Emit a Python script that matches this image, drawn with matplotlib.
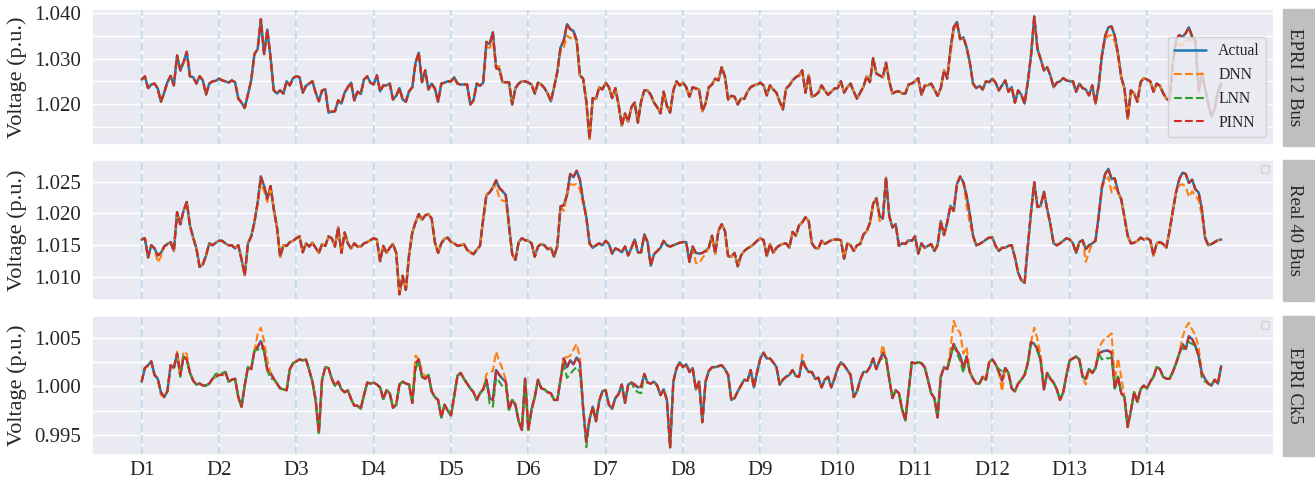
import numpy as np
import matplotlib
matplotlib.use('Agg')
from matplotlib import pyplot as plt
from matplotlib import ticker as tk
from matplotlib.patches import Rectangle
import seaborn as sns

# hourly bus voltage over two weeks (p.u.)
days = ['D%d' % d for d in range(1, 15)]
models = ['Actual', 'DNN', 'LNN', 'PINN']
cases = ['EPRI 12 Bus', 'Real 40 Bus', 'EPRI Ck5']

epri12_actual = [
    1.0254, 1.0261, 1.0235, 1.0243, 1.0245, 1.0234, 1.0205, 1.0225, 1.0248, 1.0262, 1.0241, 1.0307,
    1.0274, 1.0292, 1.0315, 1.0261, 1.0259, 1.0245, 1.0261, 1.0252, 1.0221, 1.0245, 1.0250, 1.0251,
    1.0256, 1.0252, 1.0250, 1.0247, 1.0252, 1.0248, 1.0212, 1.0203, 1.0191, 1.0222, 1.0252, 1.0310,
    1.0321, 1.0387, 1.0310, 1.0364, 1.0303, 1.0230, 1.0223, 1.0230, 1.0223, 1.0250, 1.0241, 1.0257,
    1.0261, 1.0259, 1.0225, 1.0240, 1.0245, 1.0250, 1.0225, 1.0206, 1.0230, 1.0232, 1.0181, 1.0183,
    1.0184, 1.0208, 1.0201, 1.0225, 1.0237, 1.0247, 1.0208, 1.0227, 1.0222, 1.0254, 1.0261, 1.0247,
    1.0243, 1.0263, 1.0228, 1.0241, 1.0241, 1.0245, 1.0210, 1.0218, 1.0235, 1.0210, 1.0205, 1.0228,
    1.0237, 1.0291, 1.0313, 1.0248, 1.0274, 1.0232, 1.0245, 1.0234, 1.0205, 1.0245, 1.0247, 1.0250,
    1.0250, 1.0259, 1.0245, 1.0243, 1.0243, 1.0243, 1.0199, 1.0208, 1.0245, 1.0240, 1.0247, 1.0337,
    1.0332, 1.0358, 1.0279, 1.0277, 1.0248, 1.0248, 1.0248, 1.0199, 1.0235, 1.0245, 1.0250, 1.0250,
    1.0247, 1.0243, 1.0223, 1.0247, 1.0243, 1.0235, 1.0223, 1.0206, 1.0237, 1.0271, 1.0325, 1.0340,
    1.0376, 1.0365, 1.0361, 1.0340, 1.0263, 1.0256, 1.0205, 1.0123, 1.0213, 1.0211, 1.0237, 1.0232,
    1.0247, 1.0237, 1.0213, 1.0235, 1.0199, 1.0152, 1.0179, 1.0161, 1.0193, 1.0203, 1.0159, 1.0205,
    1.0230, 1.0230, 1.0220, 1.0203, 1.0193, 1.0179, 1.0227, 1.0196, 1.0181, 1.0230, 1.0250, 1.0241,
    1.0247, 1.0237, 1.0216, 1.0237, 1.0234, 1.0232, 1.0184, 1.0201, 1.0237, 1.0243, 1.0256, 1.0252,
    1.0281, 1.0261, 1.0210, 1.0218, 1.0216, 1.0199, 1.0212, 1.0211, 1.0227, 1.0237, 1.0241, 1.0243,
    1.0247, 1.0241, 1.0219, 1.0241, 1.0232, 1.0225, 1.0205, 1.0188, 1.0234, 1.0241, 1.0252, 1.0259,
    1.0263, 1.0274, 1.0225, 1.0264, 1.0216, 1.0219, 1.0225, 1.0241, 1.0230, 1.0220, 1.0227, 1.0234,
    1.0235, 1.0250, 1.0225, 1.0237, 1.0245, 1.0227, 1.0212, 1.0225, 1.0238, 1.0261, 1.0248, 1.0301,
    1.0267, 1.0263, 1.0259, 1.0291, 1.0250, 1.0223, 1.0227, 1.0228, 1.0223, 1.0223, 1.0243, 1.0245,
    1.0250, 1.0257, 1.0220, 1.0240, 1.0241, 1.0245, 1.0232, 1.0218, 1.0235, 1.0274, 1.0256, 1.0321,
    1.0369, 1.0381, 1.0343, 1.0347, 1.0325, 1.0292, 1.0245, 1.0235, 1.0240, 1.0232, 1.0250, 1.0248,
    1.0256, 1.0247, 1.0230, 1.0241, 1.0252, 1.0227, 1.0237, 1.0203, 1.0230, 1.0220, 1.0201, 1.0248,
    1.0307, 1.0393, 1.0321, 1.0299, 1.0274, 1.0281, 1.0263, 1.0237, 1.0247, 1.0250, 1.0257, 1.0252,
    1.0250, 1.0250, 1.0227, 1.0245, 1.0235, 1.0232, 1.0219, 1.0241, 1.0201, 1.0241, 1.0307, 1.0350,
    1.0369, 1.0371, 1.0350, 1.0310, 1.0259, 1.0234, 1.0167, 1.0230, 1.0223, 1.0205, 1.0248, 1.0257,
    1.0254, 1.0250, 1.0227, 1.0245, 1.0240, 1.0224, 1.0212, 1.0207, 1.0290, 1.0341, 1.0352, 1.0348,
    1.0356, 1.0369, 1.0348, 1.0340, 1.0227, 1.0268, 1.0235, 1.0200, 1.0172, 1.0190, 1.0227, 1.0245,
]

real40_actual = [
    1.0159, 1.0161, 1.0131, 1.0150, 1.0145, 1.0134, 1.0138, 1.0148, 1.0152, 1.0155, 1.0141, 1.0202,
    1.0183, 1.0204, 1.0218, 1.0181, 1.0162, 1.0145, 1.0116, 1.0120, 1.0134, 1.0153, 1.0150, 1.0154,
    1.0157, 1.0157, 1.0153, 1.0150, 1.0150, 1.0145, 1.0150, 1.0128, 1.0103, 1.0153, 1.0164, 1.0186,
    1.0217, 1.0258, 1.0243, 1.0223, 1.0243, 1.0207, 1.0178, 1.0132, 1.0150, 1.0149, 1.0155, 1.0157,
    1.0161, 1.0164, 1.0139, 1.0153, 1.0148, 1.0154, 1.0146, 1.0138, 1.0152, 1.0149, 1.0164, 1.0161,
    1.0148, 1.0178, 1.0138, 1.0170, 1.0153, 1.0145, 1.0153, 1.0148, 1.0148, 1.0153, 1.0155, 1.0158,
    1.0161, 1.0159, 1.0125, 1.0149, 1.0138, 1.0146, 1.0152, 1.0138, 1.0073, 1.0102, 1.0080, 1.0135,
    1.0170, 1.0186, 1.0199, 1.0190, 1.0197, 1.0199, 1.0192, 1.0155, 1.0138, 1.0153, 1.0160, 1.0162,
    1.0155, 1.0153, 1.0149, 1.0150, 1.0152, 1.0143, 1.0139, 1.0136, 1.0143, 1.0149, 1.0191, 1.0229,
    1.0233, 1.0241, 1.0252, 1.0240, 1.0235, 1.0229, 1.0181, 1.0136, 1.0127, 1.0155, 1.0161, 1.0158,
    1.0157, 1.0153, 1.0132, 1.0148, 1.0152, 1.0150, 1.0144, 1.0146, 1.0132, 1.0149, 1.0211, 1.0213,
    1.0229, 1.0262, 1.0257, 1.0267, 1.0253, 1.0220, 1.0194, 1.0153, 1.0146, 1.0150, 1.0153, 1.0150,
    1.0157, 1.0152, 1.0137, 1.0145, 1.0143, 1.0139, 1.0148, 1.0134, 1.0146, 1.0159, 1.0139, 1.0139,
    1.0167, 1.0155, 1.0118, 1.0136, 1.0141, 1.0146, 1.0157, 1.0150, 1.0148, 1.0150, 1.0152, 1.0154,
    1.0155, 1.0155, 1.0124, 1.0148, 1.0138, 1.0137, 1.0138, 1.0141, 1.0146, 1.0165, 1.0137, 1.0173,
    1.0183, 1.0173, 1.0133, 1.0132, 1.0138, 1.0117, 1.0134, 1.0141, 1.0145, 1.0148, 1.0152, 1.0157,
    1.0161, 1.0158, 1.0133, 1.0152, 1.0138, 1.0146, 1.0150, 1.0152, 1.0153, 1.0146, 1.0171, 1.0165,
    1.0181, 1.0186, 1.0194, 1.0188, 1.0153, 1.0146, 1.0145, 1.0157, 1.0152, 1.0155, 1.0158, 1.0159,
    1.0159, 1.0158, 1.0129, 1.0153, 1.0150, 1.0141, 1.0150, 1.0152, 1.0167, 1.0172, 1.0185, 1.0215,
    1.0224, 1.0196, 1.0192, 1.0256, 1.0196, 1.0178, 1.0183, 1.0149, 1.0153, 1.0152, 1.0158, 1.0157,
    1.0164, 1.0137, 1.0153, 1.0146, 1.0149, 1.0152, 1.0141, 1.0150, 1.0188, 1.0166, 1.0186, 1.0212,
    1.0204, 1.0246, 1.0258, 1.0249, 1.0228, 1.0199, 1.0165, 1.0150, 1.0152, 1.0155, 1.0159, 1.0162,
    1.0162, 1.0149, 1.0141, 1.0146, 1.0146, 1.0149, 1.0150, 1.0131, 1.0107, 1.0095, 1.0091, 1.0148,
    1.0202, 1.0249, 1.0210, 1.0212, 1.0234, 1.0207, 1.0183, 1.0153, 1.0150, 1.0153, 1.0157, 1.0161,
    1.0159, 1.0153, 1.0138, 1.0155, 1.0158, 1.0144, 1.0150, 1.0153, 1.0157, 1.0196, 1.0241, 1.0262,
    1.0270, 1.0254, 1.0255, 1.0234, 1.0222, 1.0194, 1.0165, 1.0153, 1.0154, 1.0157, 1.0162, 1.0159,
    1.0161, 1.0158, 1.0134, 1.0153, 1.0155, 1.0152, 1.0146, 1.0173, 1.0204, 1.0233, 1.0254, 1.0264,
    1.0262, 1.0248, 1.0253, 1.0238, 1.0233, 1.0207, 1.0162, 1.0150, 1.0152, 1.0155, 1.0158, 1.0159,
]

ck5_actual = [
    1.0005, 1.0019, 1.0022, 1.0026, 1.0012, 1.0008, 0.9994, 0.9989, 0.9995, 1.0022, 1.0019, 1.0034,
    1.0012, 1.0031, 1.0028, 1.0014, 1.0006, 1.0002, 1.0003, 1.0001, 1.0001, 1.0003, 1.0008, 1.0010,
    1.0012, 1.0012, 1.0015, 1.0005, 1.0007, 1.0008, 0.9989, 0.9979, 1.0001, 1.0020, 1.0018, 1.0037,
    1.0041, 1.0047, 1.0037, 1.0017, 1.0014, 1.0008, 1.0003, 0.9998, 0.9997, 0.9996, 1.0018, 1.0024,
    1.0026, 1.0028, 1.0027, 1.0028, 1.0017, 1.0005, 0.9986, 0.9952, 1.0007, 1.0020, 1.0019, 1.0008,
    1.0001, 1.0005, 0.9997, 0.9994, 0.9996, 0.9987, 0.9980, 0.9980, 0.9977, 0.9991, 1.0004, 1.0003,
    1.0004, 1.0002, 0.9999, 0.9987, 0.9996, 0.9993, 0.9978, 0.9981, 1.0002, 1.0005, 1.0003, 1.0002,
    0.9983, 1.0024, 1.0028, 1.0010, 1.0008, 1.0012, 0.9995, 0.9989, 0.9986, 0.9968, 0.9981, 0.9975,
    0.9970, 0.9990, 1.0011, 1.0014, 1.0008, 1.0003, 0.9998, 0.9994, 0.9986, 0.9993, 0.9997, 1.0007,
    0.9988, 0.9986, 1.0017, 1.0012, 1.0008, 1.0005, 0.9976, 0.9986, 0.9981, 0.9964, 0.9955, 1.0008,
    0.9955, 0.9976, 0.9989, 1.0007, 0.9998, 0.9997, 0.9994, 0.9993, 0.9986, 0.9986, 1.0007, 1.0029,
    1.0020, 1.0027, 1.0023, 1.0030, 1.0025, 0.9978, 0.9943, 0.9966, 0.9979, 0.9964, 0.9985, 0.9995,
    0.9996, 0.9981, 0.9977, 0.9988, 0.9992, 1.0002, 0.9983, 1.0002, 1.0004, 1.0002, 0.9999, 1.0000,
    1.0013, 1.0004, 1.0003, 1.0005, 1.0001, 0.9991, 0.9997, 0.9986, 0.9937, 1.0005, 1.0019, 1.0025,
    1.0020, 1.0023, 1.0015, 1.0019, 0.9997, 1.0005, 0.9963, 1.0005, 1.0016, 1.0020, 1.0020, 1.0021,
    1.0022, 1.0018, 1.0012, 0.9986, 0.9988, 0.9995, 1.0001, 1.0007, 1.0006, 1.0017, 0.9999, 1.0015,
    1.0029, 1.0035, 1.0029, 1.0029, 1.0025, 1.0020, 1.0002, 1.0007, 1.0010, 1.0012, 1.0017, 1.0011,
    1.0010, 1.0027, 1.0020, 1.0015, 1.0015, 1.0008, 1.0009, 0.9999, 1.0007, 1.0010, 0.9999, 1.0008,
    1.0019, 1.0025, 1.0022, 1.0017, 1.0012, 0.9989, 0.9995, 1.0007, 1.0015, 1.0015, 1.0020, 1.0029,
    1.0018, 1.0027, 1.0035, 1.0029, 1.0008, 0.9988, 0.9996, 0.9993, 0.9976, 0.9965, 0.9995, 1.0025,
    1.0024, 1.0025, 1.0024, 1.0020, 1.0007, 0.9993, 0.9988, 0.9968, 1.0010, 1.0020, 1.0018, 1.0031,
    1.0044, 1.0037, 1.0032, 1.0019, 1.0031, 1.0015, 1.0008, 1.0003, 1.0003, 1.0010, 1.0007, 1.0025,
    1.0028, 1.0023, 1.0015, 1.0006, 1.0019, 1.0014, 0.9998, 0.9995, 1.0003, 1.0007, 1.0012, 1.0024,
    1.0046, 1.0044, 1.0039, 1.0027, 0.9997, 1.0014, 1.0008, 1.0004, 0.9997, 0.9986, 0.9994, 1.0012,
    1.0027, 1.0029, 1.0031, 1.0028, 1.0010, 1.0008, 1.0018, 1.0014, 1.0019, 1.0034, 1.0036, 1.0037,
    1.0037, 1.0035, 0.9998, 1.0010, 0.9993, 0.9989, 0.9958, 0.9975, 0.9994, 0.9984, 0.9997, 1.0001,
    0.9998, 1.0005, 1.0010, 1.0020, 1.0018, 1.0010, 1.0008, 1.0008, 1.0015, 1.0024, 1.0034, 1.0044,
    1.0039, 1.0052, 1.0049, 1.0042, 1.0032, 1.0014, 1.0008, 1.0003, 1.0001, 1.0007, 1.0003, 1.0021,
]

# where a model departs from the actual curve: {hour: offset in p.u.}
epri12_dnn_err = {107: -0.0012, 108: -0.0008, 109: -0.0020, 110: 0.0005, 111: 0.0006,
                  130: -0.0010, 131: -0.0015, 132: -0.0025, 133: -0.0020, 134: -0.0010,
                  251: -0.0011, 252: -0.0010, 253: -0.0008,
                  299: -0.0008, 300: -0.0018, 301: -0.0020, 302: -0.0012, 303: -0.0005,
                  321: -0.0015, 322: -0.0020, 323: -0.0018, 324: -0.0020, 325: -0.0025, 326: -0.0010}
epri12_lnn_err = {}
epri12_pinn_err = {}

real40_dnn_err = {5: -0.0011, 6: -0.0006, 37: -0.0010, 38: -0.0008, 39: -0.0005,
                  110: -0.0009, 111: -0.0015, 112: -0.0015, 113: -0.0010,
                  131: -0.0009, 133: -0.0016, 134: -0.0012, 135: -0.0021, 136: -0.0015, 137: -0.0005,
                  172: -0.0016, 173: -0.0015, 174: -0.0008, 175: -0.0005, 229: -0.0008,
                  256: -0.0016, 257: -0.0015, 293: -0.0020, 294: -0.0011,
                  299: -0.0010, 300: -0.0013, 301: -0.0021, 302: -0.0013,
                  322: -0.0010, 323: -0.0018, 324: -0.0020, 325: -0.0022, 326: -0.0018,
                  327: -0.0010, 328: -0.0012, 329: -0.0010}
real40_lnn_err = {}
real40_pinn_err = {}

ck5_dnn_err = {6: -0.0003, 11: 0.0002, 13: 0.0005, 14: 0.0006,
               36: 0.0013, 37: 0.0014, 38: 0.0010, 39: 0.0010,
               85: 0.0008, 87: 0.0006, 88: 0.0002,
               107: 0.0006, 108: 0.0027, 109: 0.0030, 110: 0.0019, 111: 0.0014, 112: 0.0010, 113: 0.0002,
               131: 0.0002, 132: 0.0010, 133: 0.0005, 134: 0.0015, 135: 0.0014, 136: 0.0005,
               205: 0.0006, 230: 0.0008,
               251: 0.0008, 252: 0.0024, 253: 0.0022, 254: 0.0024, 255: 0.0015, 256: 0.0010,
               267: -0.0011, 277: 0.0017, 278: 0.0010, 279: 0.0005, 293: -0.0006,
               297: 0.0005, 298: 0.0010, 299: 0.0013, 300: 0.0015, 301: 0.0020, 302: 0.0008,
               303: 0.0019, 304: 0.0017,
               323: 0.0007, 324: 0.0022, 325: 0.0014, 326: 0.0010, 327: 0.0011, 328: 0.0009}
ck5_lnn_err = {12: -0.0002, 23: 0.0003, 24: 0.0002, 25: 0.0002, 36: -0.0003, 37: -0.0006, 40: -0.0006,
               85: -0.0006, 86: -0.0002,
               108: -0.0006, 109: -0.0007, 110: -0.0008, 111: -0.0007, 112: -0.0008, 113: -0.0004,
               131: -0.0005, 132: -0.0011, 133: -0.0014, 134: -0.0006, 135: -0.0010, 136: -0.0010,
               138: -0.0006, 153: -0.0005, 154: -0.0005, 155: -0.0007, 230: -0.0005,
               253: -0.0003, 254: -0.0005, 255: -0.0005, 266: 0.0003, 267: 0.0010, 278: -0.0003,
               298: -0.0008, 299: -0.0007, 300: -0.0008, 301: -0.0005,
               323: -0.0005, 325: -0.0006, 326: -0.0005, 329: -0.0005, 330: -0.0003}
ck5_pinn_err = {}

actuals = [epri12_actual, real40_actual, ck5_actual]
errors = [
    [epri12_dnn_err, epri12_lnn_err, epri12_pinn_err],
    [real40_dnn_err, real40_lnn_err, real40_pinn_err],
    [ck5_dnn_err, ck5_lnn_err, ck5_pinn_err],
]

sns.set_theme(style='darkgrid')
plt.rcParams['font.family'] = ['Liberation Serif', 'DejaVu Serif']

colors = ['#1f77b4', '#ff7f0e', '#2ca02c', '#d62728']
ylims = [(1.01095, 1.04095), (1.0064, 1.0284), (0.9929, 1.0073)]
major_steps = [0.010, 0.005, 0.005]
minor_steps = [0.005, 0.005, 0.0025]
# axes boxes in figure pixels (top, bottom), 1315 x 483 canvas
rows_px = [(9, 145), (160, 300), (316, 455)]
W, H = 1315, 483

fig = plt.figure(figsize=(W / 100, H / 100), dpi=100)
hours = np.arange(len(epri12_actual))

for k in range(3):
    top, bot = rows_px[k]
    ax = fig.add_axes([92 / W, 1 - bot / H, (1274 - 92) / W, (bot - top) / H])

    actual = np.array(actuals[k])
    ax.plot(hours, actual, color=colors[0], lw=1.8, label=models[0])
    for m in range(3):
        pred = actual.copy()
        for h, off in errors[k][m].items():
            pred[h] += off
        ax.plot(hours, pred, color=colors[m + 1], lw=1.5, ls='--', label=models[m + 1])

    for d in range(len(days)):
        ax.axvline(d * 24, color='#a9cbe6', ls='--', lw=1.6, alpha=0.6, zorder=1)

    ax.set_xlim(-15.4, 351.4)
    ax.set_ylim(*ylims[k])
    ax.set_xticks(np.arange(len(days)) * 24)
    if k == 2:
        ax.set_xticklabels(days, fontsize=15)
    else:
        ax.set_xticklabels([])
    ax.yaxis.set_major_locator(tk.MultipleLocator(major_steps[k]))
    ax.yaxis.set_minor_locator(tk.MultipleLocator(minor_steps[k]))
    ax.yaxis.set_major_formatter(tk.FormatStrFormatter('%.3f'))
    ax.grid(which='minor', axis='y', color='white', lw=1)
    ax.tick_params(axis='both', which='both', length=0, labelsize=15)
    ax.tick_params(axis='x', pad=4.2)
    ax.tick_params(axis='y', pad=7.8)
    ax.set_ylabel('Voltage (p.u.)', fontsize=16)
    ax.yaxis.set_label_coords(-0.055, 0.5)

    if k == 0:
        leg = ax.legend(loc='lower right', fontsize=11.3)
    else:
        # the other panels only carry an empty legend box
        leg = ax.legend(handles=[], loc='upper right', fontsize=7)

    # grey strip with the case name
    fig.patches.append(Rectangle((1283 / W, 1 - (bot + 1) / H), 40 / W, (bot - top + 1) / H,
                                 transform=fig.transFigure, color='#bfbfbf', zorder=0))
    fig.text(1294 / W, 1 - (top + bot) / 2 / H, cases[k], rotation=-90,
             ha='center', va='center', fontsize=13.5)

fig.savefig('out.png', dpi=100)
